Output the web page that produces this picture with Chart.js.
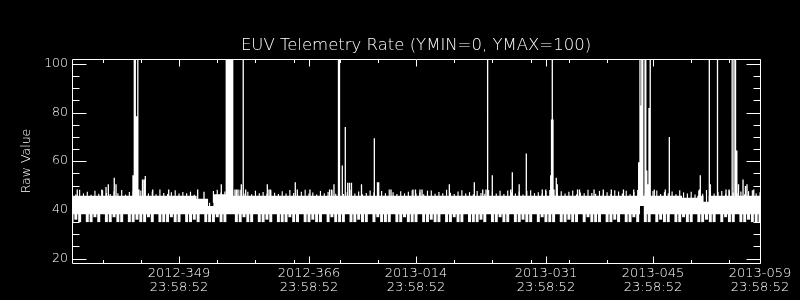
<!DOCTYPE html>
<html><head><meta charset="utf-8">
<script src="https://cdn.jsdelivr.net/npm/chart.js@4.4.1/dist/chart.umd.min.js"></script>
<style>html,body{margin:0;padding:0;background:#000;overflow:hidden}#wrap{width:800px;height:300px;background:#000}</style>
</head><body><div id="wrap"><canvas id="c" width="800" height="300"></canvas></div>
<script>
// ---- axis ticks (x in day numbers counted from 2012-001; 2013-001 = 367) ----
const xMajorTicks = [349, 366, 380, 397, 411, 425];
const xMajorDates = ['2012-349', '2012-366', '2013-014', '2013-031', '2013-045', '2013-059'];
const xMajorTime = '23:58:52';
const xMinorTicks = [339, 344, 354, 359, 364, 370, 375, 385, 390, 395, 400, 405, 416, 421];
const yMajorTicks = [20, 40, 60, 80, 100];
const yMinorTicks = [25, 30, 35, 45, 50, 55, 65, 70, 75, 85, 90, 95];

// ---- core band of the telemetry rate (upper / lower envelope) ----
const bandDays  = [335, 351.3, 351.3, 352.8, 352.8, 353.5, 353.5, 355.2, 355.2, 409.3, 409.3, 409.8, 409.8, 414.8, 414.8, 416.8, 416.8, 417.6, 417.6, 418.3, 418.3, 425];
const bandUpper = [45.8, 45.8, 44.6, 44.6, 41.6, 41.6, 46.4, 46.4, 45.8, 45.8, 45.8, 45.8, 45.8, 45.8, 45.0, 45.0, 45.8, 45.8, 43.4, 43.4, 45.8, 45.8];
const bandLower = [38.2, 38.2, 38.2, 38.2, 38.2, 38.2, 38.2, 38.2, 38.2, 38.2, 41.6, 41.6, 38.2, 38.2, 38.2, 38.2, 38.2, 38.2, 38.2, 38.2, 38.2, 38.2];

// ---- half-day bins: lowest and highest readings in each bin ----
const binStart = 335, binStep = 0.5;
const binLow = [
 35,36,35,38.4,35,35,37,35,38.4,35,
 35,37,35,35,38.4,35,35,36,35,35,
 37,35,38.4,35,35,35,37,35,35,38.4,
 35,35,36,35,38.4,35,35,35,37,35,
 35,38.4,38.4,35,35,37,35,35,38.4,35,
 35,36,35,38.4,35,35,35,37,35,35,
 38.4,35,35,36,35,35,38.4,35,37,35,
 35,35,38.4,35,35,36,35,35,38.4,35,
 37,35,35,35,38.4,35,35,37,35,35,
 35,38.4,35,35,36,35,35,38.4,35,35,
 37,35,35,38.4,35,35,35,36,35,38.4,
 35,35,37,35,35,38.4,35,35,36,35,
 35,38.4,35,37,35,35,35,38.4,35,35,
 36,35,35,38.4,35,37,35,35,35,38.4,
 35,35,36,35,38.4,35,35,37,35,38.4,
 35,35,38.4,35,36,35,35,38.4,35,35,
 37,35,35,38.4,35,35,36,35,35,38.4,
 35,37,35,35,38.4,35,35,36,35,35,35];
const binHigh = [
 47.2,46.4,48.3,46.8,47.5,46.2,47.9,46.6,48.1,47.0,
 46.5,47.7,46.9,48.2,46.3,47.4,47.8,46.6,48.0,47.1,
 46.8,47.6,46.4,48.4,47.0,46.5,47.3,48.1,46.7,47.4,
 46.9,47.5,46.2,44.0,44.0,41.0,41.0,47.8,48.3,47.2,
 47.6,48.2,48.0,47.3,48.3,46.8,47.5,46.4,47.9,46.9,
 47.4,46.6,48.0,47.1,46.5,47.7,46.8,48.2,47.0,46.4,
 47.5,48.3,46.7,47.2,46.3,47.8,46.9,47.4,48.1,46.6,
 47.9,46.5,47.3,48.2,46.8,47.6,46.4,47.0,48.0,47.2,
 46.6,47.8,46.9,48.4,47.3,46.5,47.7,46.8,47.5,48.1,
 46.7,47.2,46.4,47.9,48.0,46.6,47.4,46.9,48.3,47.1,
 46.5,47.6,48.1,46.8,47.3,46.4,47.8,47.0,46.6,48.2,
 47.4,46.7,47.9,46.5,48.0,47.2,46.8,47.6,46.3,47.9,
 48.1,46.9,47.3,46.6,47.8,48.2,46.5,47.1,47.7,46.8,
 47.5,48.0,46.4,47.2,46.9,48.3,47.0,46.6,47.8,46.7,
 47.3,46.5,48.1,47.6,46.8,47.9,46.4,47.4,48.2,46.6,
 47.0,46.7,47.8,48.0,46.5,47.3,46.9,47.6,46.4,48.1,
 47.2,46.8,47.5,46.3,47.9,46.6,48.2,47.1,46.7,47.4,
 47.8,46.5,48.0,47.2,46.9,47.6,46.4,47.7,48.1,46.8,47.3];

// ---- individual spikes (day, peak value; 105 = beyond the top of the plot) ----
const spikeDays = [
 335.69,338.89,339.45,339.75,340.53,340.76,342.98,343.15,343.28,343.44,
 343.53,343.61,343.76,344.22,344.42,344.59,345.56,347.65,351.44,352.27,
 354.53,355.18,355.30,355.42,355.54,355.66,355.78,355.90,356.02,356.32,
 356.52,356.72,357.15,357.40,357.72,360.55,360.77,360.97,364.21,364.47,
 366.13,368.69,368.95,369.27,369.86,369.99,370.36,370.75,371.07,371.30,
 371.56,372.87,374.55,374.96,375.12,376.73,379.61,379.93,380.52,380.79,
 384.36,387.63,388.73,389.16,389.37,389.98,392.39,392.60,393.50,394.43,
 396.52,396.97,397.62,397.73,397.83,397.92,398.05,398.35,398.48,401.13,
 401.39,403.29,404.50,405.55,407.14,408.48,409.13,409.30,409.41,409.54,
 409.67,409.96,410.06,410.19,410.31,410.48,410.64,411.17,412.61,413.14,
 417.06,417.19,418.37,418.50,419.44,420.55,420.94,421.36,421.60,421.80,
 421.97,422.19,422.78,423.10,423.30,424.18];
const spikeTops = [
 48.4,48.4,49.4,50.5,53.2,50.5,54.2,105,105,78.5,
 78.5,105,48.4,52.5,52.5,53.9,48.4,48.4,48.4,47.5,
 50.5,105,105,105,105,105,105,105,105,48.4,
 48.4,48.4,50.5,105,48.4,50.5,48.4,48.4,51.4,48.4,
 48.4,48.4,48.4,50.5,105,105,58.3,74.1,51.2,51.2,
 51.2,50.5,69.4,51.4,51.4,48.4,48.4,48.4,48.4,48.4,
 50.5,51.4,48.4,48.4,105,54.2,48.4,55.5,50.5,63.2,
 48.4,48.4,54.2,77.1,105,77.1,48.4,53.2,50.5,48.4,
 48.4,48.4,48.4,48.4,48.4,48.4,59.6,105,82.9,105,
 105,105,105,56.2,50.5,81.9,105,48.4,48.4,70.0,
 48.4,54.2,105,50.5,105,48.4,48.4,105,105,105,
 64.4,50.5,52.5,49.8,50.5,48.4];

const titleText = 'EUV Telemetry Rate (YMIN=0, YMAX=100)';
const yTitle = 'Raw Value';

// ---- build library data tables ----
const bandLowerPts = bandDays.map((d, i) => ({x: d, y: bandLower[i]}));
const bandUpperPts = bandDays.map((d, i) => ({x: d, y: bandUpper[i]}));
const lowBars = binLow.map((v, i) => ({x: binStart + binStep * i, y: [v, 38.4]}));
const highBars = binHigh.map((v, i) => ({x: binStart + binStep * i, y: [43, v]}));
const spikePts = [];
spikeDays.forEach((d, i) => { spikePts.push({x: d, y: 43}, {x: d, y: spikeTops[i]}, {x: d, y: null}); });

const FONT = '"DejaVu Sans", sans-serif';
const W = '200';

const frameTicks = {
  id: 'frameTicks',
  afterDatasetsDraw(chart) {
    const {ctx, chartArea: {left, right, top, bottom}, scales: {x, y}} = chart;
    ctx.save();
    ctx.strokeStyle = '#fff';
    ctx.lineWidth = 1;
    ctx.beginPath();
    const L = Math.round(left) + 0.5, R = Math.round(right) + 0.5, T = Math.round(top) + 0.5, B = Math.round(bottom) + 0.5;
    ctx.moveTo(L, T); ctx.lineTo(R, T); ctx.lineTo(R, B); ctx.lineTo(L, B); ctx.closePath();
    const xt = (list, len) => list.forEach(d => {
      const px = Math.round(x.getPixelForValue(d)) + 0.5;
      ctx.moveTo(px, B); ctx.lineTo(px, B - len);
      ctx.moveTo(px, T); ctx.lineTo(px, T + len);
    });
    const yt = (list, len) => list.forEach(v => {
      const py = Math.round(y.getPixelForValue(v)) + 0.5;
      ctx.moveTo(L, py); ctx.lineTo(L + len, py);
      ctx.moveTo(R, py); ctx.lineTo(R - len, py);
    });
    xt(xMajorTicks, 7); xt(xMinorTicks, 3.5);
    yt(yMajorTicks, 14); yt(yMinorTicks, 7);
    ctx.stroke();
    ctx.restore();
  }
};

new Chart(document.getElementById('c'), {
  type: 'line',
  data: {
    datasets: [
      {type: 'line', data: bandLowerPts, borderWidth: 0, pointRadius: 0, fill: false, order: 5},
      {type: 'line', data: bandUpperPts, borderWidth: 0, pointRadius: 0, fill: '-1', backgroundColor: '#fff', order: 4},
      {type: 'bar', data: lowBars, backgroundColor: '#fff', borderWidth: 0, barPercentage: 0.78, categoryPercentage: 1, grouped: false, order: 3},
      {type: 'bar', data: highBars, backgroundColor: '#fff', borderWidth: 0, barPercentage: 0.3, categoryPercentage: 1, grouped: false, order: 2},
      {type: 'line', data: spikePts, borderColor: '#fff', borderWidth: 1.3, pointRadius: 0, spanGaps: false, fill: false, clip: 0, order: 1}
    ]
  },
  options: {
    responsive: false,
    animation: false,
    events: [],
    layout: {padding: {left: 0, right: 40, top: 0, bottom: 0}},
    plugins: {
      legend: {display: false},
      tooltip: {enabled: false},
      title: {
        display: true, text: titleText, color: '#fff', fullSize: false,
        font: {family: FONT, size: 16.5, weight: W, lineHeight: 1.2},
        padding: {top: 36, bottom: 3.2}
      }
    },
    scales: {
      x: {
        type: 'linear', min: 335, max: 425, offset: false,
        grid: {display: false, drawTicks: false, offset: false},
        border: {display: false},
        afterBuildTicks: s => { s.ticks = xMajorTicks.map(v => ({value: v})); },
        afterFit: s => { s.height = 37; },
        ticks: {
          color: '#fff', padding: 4, maxRotation: 0, autoSkip: false,
          font: {family: FONT, size: 13, weight: W, lineHeight: '14px'},
          callback: v => [xMajorDates[xMajorTicks.indexOf(v)], xMajorTime]
        }
      },
      y: {
        type: 'linear', min: 18.2, max: 102,
        grid: {display: false, drawTicks: false},
        border: {display: false},
        afterBuildTicks: s => { s.ticks = yMajorTicks.map(v => ({value: v})); },
        afterFit: s => { s.width = 72; },
        ticks: {color: '#fff', padding: 4, autoSkip: false, font: {family: FONT, size: 12.5, weight: W}, callback: v => String(v)},
        title: {display: true, text: yTitle, color: '#fff', font: {family: FONT, size: 12.5, weight: W, lineHeight: 1.2}, padding: {top: 19.5, bottom: 0}}
      }
    }
  },
  plugins: [frameTicks]
});
</script>
</body></html>
